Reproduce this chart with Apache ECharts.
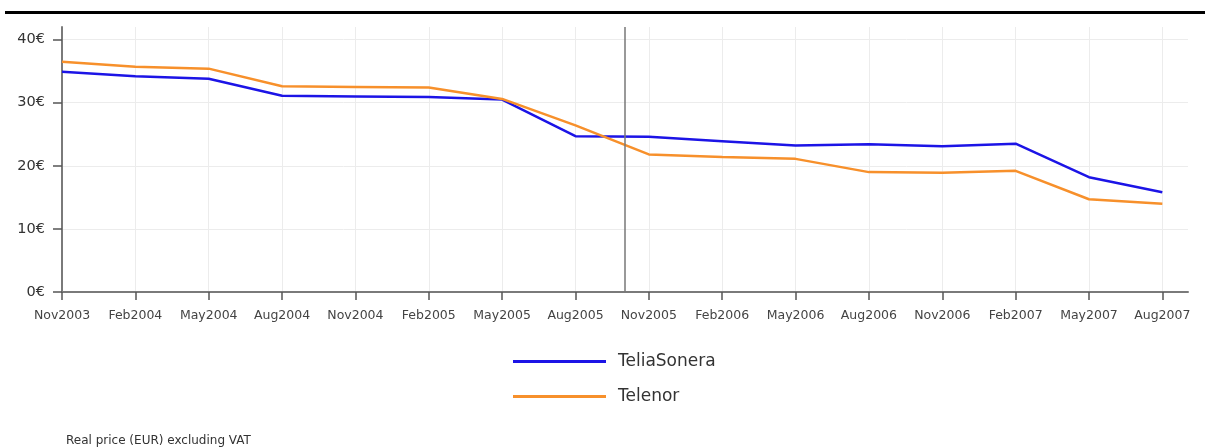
<!DOCTYPE html>
<html>
<head>
<meta charset="utf-8">
<script src="https://cdn.jsdelivr.net/npm/echarts@6/dist/echarts.min.js"></script>
<style>
	html, body { margin: 0; padding: 0; background: #fff; }
	#chart { width: 1205px; height: 448px; }
</style>
</head>
<body>
<div id="chart"></div>
<script>
// categories (quarters)
var months = ['Nov2003', 'Feb2004', 'May2004', 'Aug2004', 'Nov2004', 'Feb2005', 'May2005', 'Aug2005',
	'Nov2005', 'Feb2006', 'May2006', 'Aug2006', 'Nov2006', 'Feb2007', 'May2007', 'Aug2007'];
var teliaSonera = [34.9, 34.2, 33.8, 31.1, 31.0, 30.9, 30.5, 24.7, 24.6, 23.9, 23.2, 23.4, 23.1, 23.5, 18.2, 15.8];
var telenor = [36.5, 35.7, 35.4, 32.6, 32.5, 32.4, 30.6, 26.4, 21.8, 21.4, 21.1, 19.0, 18.9, 19.2, 14.7, 14.0];
var yTicks = [0, 10, 20, 30, 40];
var markerPos = 7.67; // vertical reference line between Aug2005 and Nov2005

function pairs(arr) {
	return arr.map(function (v, i) { return [i, v]; });
}

var chart = echarts.init(document.getElementById('chart'));
var font = '"DejaVu Sans", sans-serif';
var option = {
	animation: false,
	textStyle: { fontFamily: font },
	graphic: [{
		type: 'rect',
		shape: { x: 5, y: 11, width: 1200, height: 3 },
		style: { fill: '#000' }
	}],
	title: {
		text: 'Real price (EUR) excluding VAT',
		left: 66,
		top: 435,
		padding: 0,
		textStyle: { fontSize: 12, fontWeight: 'normal', color: '#333', fontFamily: font }
	},
	legend: {
		orient: 'vertical',
		left: 513,
		top: 353,
		padding: 0,
		icon: 'rect',
		itemWidth: 93,
		itemHeight: 3,
		itemGap: 18,
		textStyle: { fontSize: 17, color: '#333', padding: [0, 0, 0, 7] },
		data: ['TeliaSonera', 'Telenor']
	},
	grid: { left: 62, right: 17, top: 27, bottom: 156 },
	xAxis: {
		type: 'value',
		min: 0,
		max: 15.35,
		interval: 1,
		axisLine: { lineStyle: { color: '#7a7a7a', width: 2 } },
		axisTick: { length: 8, lineStyle: { color: '#555', width: 1.5 } },
		splitLine: { show: true, showMaxLine: false, lineStyle: { color: '#ececec', width: 1 } },
		axisLabel: {
			fontSize: 12.5, color: '#444', margin: 17,
			showMaxLabel: false,
			formatter: function (v) { return Number.isInteger(v) ? months[v] : ''; }
		}
	},
	yAxis: {
		type: 'value',
		min: 0,
		max: 42,
		interval: 10,
		axisLine: { show: true, lineStyle: { color: '#7a7a7a', width: 2 } },
		axisTick: { show: true, length: 9, lineStyle: { color: '#555', width: 1.5 } },
		splitLine: { show: true, showMaxLine: false, lineStyle: { color: '#ececec', width: 1 } },
		axisLabel: {
			fontSize: 14.5, color: '#333', margin: 17,
			showMaxLabel: false,
			formatter: function (v) { return yTicks.indexOf(v) >= 0 ? v + '€' : ''; }
		}
	},
	series: [{
		name: 'TeliaSonera',
		type: 'line',
		data: pairs(teliaSonera),
		showSymbol: false,
		color: '#1c14e6',
		lineStyle: { width: 2.5, color: '#1c14e6' },
		markLine: {
			silent: true,
			symbol: 'none',
			label: { show: false },
			lineStyle: { color: '#777', width: 1.5, type: 'solid' },
			data: [{ xAxis: markerPos }]
		}
	}, {
		name: 'Telenor',
		type: 'line',
		data: pairs(telenor),
		showSymbol: false,
		color: '#f7902b',
		lineStyle: { width: 2.5, color: '#f7902b' }
	}]
};
chart.setOption(option);
window.onresize = chart.resize;
</script>
</body>
</html>
